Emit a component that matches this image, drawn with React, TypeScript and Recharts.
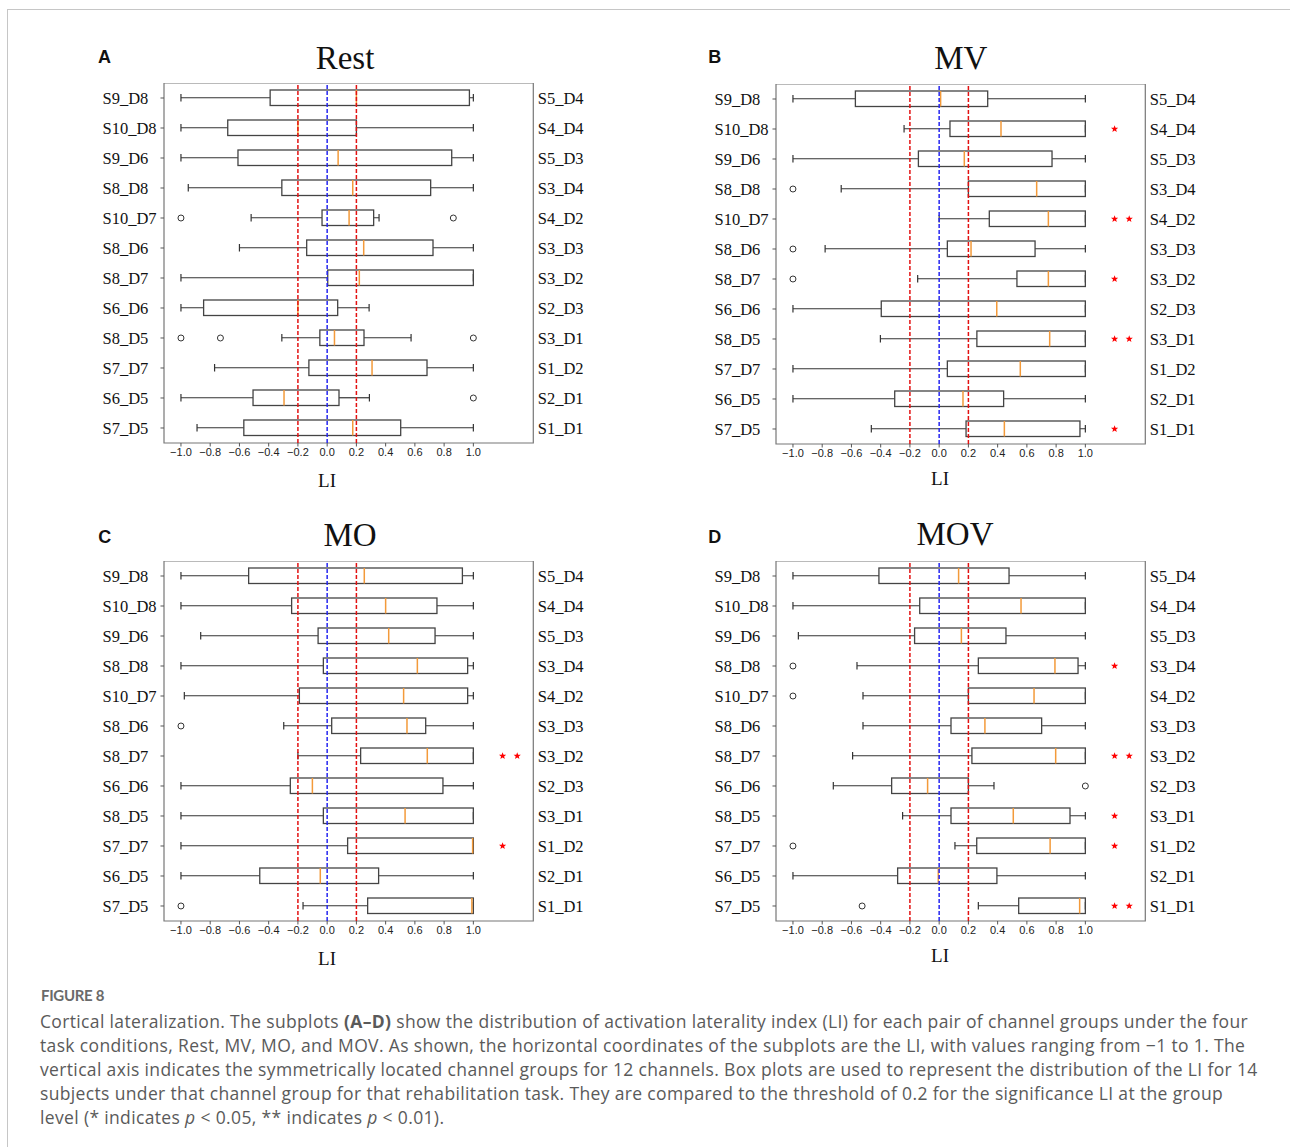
import React from 'react';
import { ComposedChart, Bar, XAxis, YAxis, ReferenceLine, ReferenceArea } from 'recharts';

// ---------- categories & ticks ----------
const leftLabels = ['S9_D8', 'S10_D8', 'S9_D6', 'S8_D8', 'S10_D7', 'S8_D6', 'S8_D7', 'S6_D6', 'S8_D5', 'S7_D7', 'S6_D5', 'S7_D5'];
const rightLabels = ['S5_D4', 'S4_D4', 'S5_D3', 'S3_D4', 'S4_D2', 'S3_D3', 'S3_D2', 'S2_D3', 'S3_D1', 'S1_D2', 'S2_D1', 'S1_D1'];
const xTicks = [-1.0, -0.8, -0.6, -0.4, -0.2, 0.0, 0.2, 0.4, 0.6, 0.8, 1.0];
const thresholds = [-0.2, 0.2];

// ---------- Rest ----------
const restLow = [-1.0, -1.0, -1.0, -0.95, -0.52, -0.6, -1.0, -1.0, -0.31, -0.77, -1.0, -0.89];
const restQ1 = [-0.39, -0.68, -0.61, -0.31, -0.035, -0.14, 0.004, -0.845, -0.05, -0.125, -0.507, -0.57];
const restMed = [0.2, -0.2, 0.075, 0.175, 0.15, 0.25, 0.22, -0.2, 0.05, 0.307, -0.295, 0.175];
const restQ3 = [0.973, 0.2, 0.852, 0.708, 0.318, 0.724, 1.0, 0.072, 0.252, 0.683, 0.081, 0.503];
const restHigh = [1.0, 1.0, 1.0, 1.0, 0.355, 1.0, 1.0, 0.287, 0.574, 1.0, 0.289, 1.0];
const restOut = [[], [], [], [], [-1.0, 0.863], [], [], [], [-1.0, -0.73, 1.0], [], [1.0], []];
const restSig = [0, 0, 0, 0, 0, 0, 0, 0, 0, 0, 0, 0];

// ---------- MV ----------
const mvLow = [-1.0, -0.24, -1.0, -0.67, 0.0, -0.78, -0.147, -1.0, -0.402, -1.0, -1.0, -0.464];
const mvQ1 = [-0.573, 0.074, -0.142, 0.2, 0.343, 0.056, 0.532, -0.396, 0.258, 0.056, -0.304, 0.184];
const mvMed = [0.01, 0.423, 0.172, 0.667, 0.747, 0.218, 0.747, 0.394, 0.756, 0.555, 0.163, 0.446];
const mvQ3 = [0.332, 1.0, 0.772, 1.0, 1.0, 0.656, 1.0, 1.0, 1.0, 1.0, 0.441, 0.963];
const mvHigh = [1.0, 1.0, 1.0, 1.0, 1.0, 1.0, 1.0, 1.0, 1.0, 1.0, 1.0, 1.0];
const mvOut = [[], [], [], [-1.0], [], [-1.0], [-1.0], [], [], [], [], []];
const mvSig = [0, 1, 0, 0, 2, 0, 1, 0, 2, 0, 0, 1];

// ---------- MO ----------
const moLow = [-1.0, -1.0, -0.865, -1.0, -0.977, -0.297, -0.2, -1.0, -1.0, -1.0, -1.0, -0.165];
const moQ1 = [-0.537, -0.243, -0.062, -0.026, -0.19, 0.031, 0.229, -0.252, -0.026, 0.14, -0.461, 0.277];
const moMed = [0.254, 0.4, 0.421, 0.617, 0.523, 0.546, 0.685, -0.101, 0.533, 0.995, -0.047, 0.99];
const moQ3 = [0.925, 0.751, 0.738, 0.961, 0.961, 0.674, 1.0, 0.792, 1.0, 1.0, 0.352, 1.0];
const moHigh = [1.0, 1.0, 1.0, 1.0, 1.0, 1.0, 1.0, 1.0, 1.0, 1.0, 1.0, 1.0];
const moOut = [[], [], [], [], [], [-1.0], [], [], [], [], [], [-1.0]];
const moSig = [0, 0, 0, 0, 0, 0, 2, 0, 0, 1, 0, 0];

// ---------- MOV ----------
const movLow = [-1.0, -1.0, -0.963, -0.562, -0.521, -0.521, -0.592, -0.724, -0.25, 0.108, -1.0, 0.268];
const movQ1 = [-0.412, -0.133, -0.168, 0.268, 0.2, 0.081, 0.224, -0.325, 0.081, 0.257, -0.284, 0.544];
const movMed = [0.133, 0.56, 0.152, 0.792, 0.649, 0.313, 0.797, -0.079, 0.507, 0.759, -0.006, 0.961];
const movQ3 = [0.478, 1.0, 0.457, 0.95, 1.0, 0.701, 1.0, 0.2, 0.895, 1.0, 0.395, 1.0];
const movHigh = [1.0, 1.0, 1.0, 1.0, 1.0, 1.0, 1.0, 0.375, 1.0, 1.0, 1.0, 1.0];
const movOut = [[], [], [], [-1.0], [-1.0], [], [], [1.0], [], [-1.0], [], [-0.527]];
const movSig = [0, 0, 0, 1, 0, 0, 2, 0, 1, 1, 0, 2];

// ---------- styling constants ----------
const X_DOMAIN: [number, number] = [-1.116, 1.41];
const STAR_X = [1.2, 1.3];
const AXIS_W_L = 80;
const AXIS_W_R = 70;
const AXIS_H = 30;
const PLOT_W = 369.3;
const PLOT_H = 360;
const SERIF = 'Liberation Serif, Times New Roman, serif';
const SANS = 'Liberation Sans, Arial, sans-serif';
const BOX_STROKE = '#444';
const WHISK_STROKE = '#333';
const MED_COLOR = '#f39a3a';

const fmt = (v: number) => (v < -1e-9 ? '\u2212' : '') + Math.abs(v).toFixed(1);

function buildRows(low: number[], q1: number[], med: number[], q3: number[], high: number[], out: number[][], sig: number[]) {
  return leftLabels.map((name, i) => {
    const o = out[i];
    return {
      name,
      right: rightLabels[i],
      box: [q1[i], q3[i]],
      loW: [low[i], q1[i]],
      hiW: [q3[i], high[i]],
      med: [med[i], med[i]],
      o1: o.length > 0 ? [o[0], o[0]] : null,
      o2: o.length > 1 ? [o[1], o[1]] : null,
      o3: o.length > 2 ? [o[2], o[2]] : null,
      s1: sig[i] >= 1 ? [STAR_X[0], STAR_X[0]] : null,
      s2: sig[i] >= 2 ? [STAR_X[1], STAR_X[1]] : null,
    };
  });
}

const isMissing = (p: any, key: string) => !p || !p.payload || p.payload[key] == null || !isFinite(p.x);

const BoxShape = (p: any) =>
  isMissing(p, 'box') ? <g /> : (
    <rect x={p.x} y={p.y} width={Math.max(0, p.width)} height={p.height} fill="none" stroke={BOX_STROKE} strokeWidth={1.3} />
  );

const LoWhisker = (p: any) => {
  if (isMissing(p, 'loW')) return <g />;
  const cy = p.y + p.height / 2;
  return (
    <g stroke={WHISK_STROKE} strokeWidth={1.2}>
      <line x1={p.x} x2={p.x + p.width} y1={cy} y2={cy} />
      <line x1={p.x} x2={p.x} y1={p.y} y2={p.y + p.height} />
    </g>
  );
};

const HiWhisker = (p: any) => {
  if (isMissing(p, 'hiW')) return <g />;
  const cy = p.y + p.height / 2;
  const xe = p.x + p.width;
  return (
    <g stroke={WHISK_STROKE} strokeWidth={1.2}>
      <line x1={p.x} x2={xe} y1={cy} y2={cy} />
      <line x1={xe} x2={xe} y1={p.y} y2={p.y + p.height} />
    </g>
  );
};

const MedShape = (p: any) =>
  isMissing(p, 'med') ? <g /> : (
    <line x1={p.x} x2={p.x} y1={p.y} y2={p.y + p.height} stroke={MED_COLOR} strokeWidth={1.5} />
  );

const outlierShape = (key: string) => (p: any) =>
  isMissing(p, key) ? <g /> : (
    <circle cx={p.x} cy={p.y + p.height / 2} r={3} fill="none" stroke="#333" strokeWidth={1} />
  );

function starPath(cx: number, cy: number, R: number, r: number) {
  let d = '';
  for (let k = 0; k < 10; k++) {
    const ang = -Math.PI / 2 + (k * Math.PI) / 5;
    const rad = k % 2 === 0 ? R : r;
    d += (k === 0 ? 'M' : 'L') + (cx + rad * Math.cos(ang)).toFixed(2) + ',' + (cy + rad * Math.sin(ang)).toFixed(2);
  }
  return d + 'Z';
}

const starShape = (key: string) => (p: any) =>
  isMissing(p, key) ? <g /> : <path d={starPath(p.x, p.y + p.height / 2, 3.8, 1.6)} fill="#ff0000" stroke="none" />;

const LeftTick = (props: any) => {
  const { x, y, payload } = props;
  return (
    <text x={x - 55} y={y} dy="0.36em" textAnchor="start" style={{ fontFamily: SERIF, fontSize: 16.5 }} fill="#111">
      {payload.value}
    </text>
  );
};

const RightTick = (props: any) => {
  const { x, y, payload } = props;
  return (
    <text x={x} y={y} dy="0.36em" textAnchor="start" style={{ fontFamily: SERIF, fontSize: 16.5 }} fill="#111">
      {payload.value}
    </text>
  );
};

const hiddenAxes = ['hw', 'md', 'a1', 'a2', 'a3', 'b1', 'b2'];

function Panel(props: { rows: any[]; left: number; top: number }) {
  const { rows, left, top } = props;
  return (
    <div style={{ position: 'absolute', left, top }}>
      <ComposedChart
        layout="vertical"
        width={AXIS_W_L + PLOT_W + AXIS_W_R}
        height={PLOT_H + AXIS_H}
        data={rows}
        margin={{ top: 0, right: 0, bottom: 0, left: 0 }}
      >
        <XAxis
          type="number"
          domain={X_DOMAIN}
          allowDataOverflow
          ticks={xTicks}
          interval={0}
          tickFormatter={fmt}
          height={AXIS_H}
          axisLine={false}
          tickSize={3.5}
          tickMargin={2}
          tickLine={{ stroke: '#555' }}
          tick={{ fontSize: 11, fill: '#222', fontFamily: SANS }}
        />
        <YAxis
          yAxisId="L"
          type="category"
          dataKey="name"
          width={AXIS_W_L}
          interval={0}
          axisLine={false}
          tickSize={3.5}
          tickMargin={3}
          tickLine={{ stroke: '#555' }}
          tick={<LeftTick />}
        />
        <YAxis
          yAxisId="R"
          orientation="right"
          type="category"
          dataKey="right"
          width={AXIS_W_R}
          interval={0}
          axisLine={false}
          tickLine={false}
          tickSize={0}
          tickMargin={4.5}
          tick={<RightTick />}
        />
        {hiddenAxes.map((id) => (
          <YAxis key={id} yAxisId={id} type="category" dataKey="name" hide />
        ))}
        <ReferenceArea
          yAxisId="L"
          x1={X_DOMAIN[0]}
          x2={X_DOMAIN[1]}
          fill="none"
          fillOpacity={0}
          stroke="#777"
          strokeWidth={1.2}
          ifOverflow="visible"
        />
        <ReferenceLine yAxisId="L" x={thresholds[0]} stroke="#e31111" strokeDasharray="4 2" strokeWidth={1.5} />
        <ReferenceLine yAxisId="L" x={thresholds[1]} stroke="#e31111" strokeDasharray="4 2" strokeWidth={1.5} />
        <ReferenceLine yAxisId="L" x={0} stroke="#2626f0" strokeDasharray="4 2" strokeWidth={1.5} />
        <Bar yAxisId="R" dataKey="loW" barSize={7.5} shape={LoWhisker} isAnimationActive={false} />
        <Bar yAxisId="hw" dataKey="hiW" barSize={7.5} shape={HiWhisker} isAnimationActive={false} />
        <Bar yAxisId="L" dataKey="box" barSize={15.5} shape={BoxShape} isAnimationActive={false} />
        <Bar yAxisId="md" dataKey="med" barSize={15.5} shape={MedShape} isAnimationActive={false} />
        <Bar yAxisId="a1" dataKey="o1" barSize={8} shape={outlierShape('o1')} isAnimationActive={false} />
        <Bar yAxisId="a2" dataKey="o2" barSize={8} shape={outlierShape('o2')} isAnimationActive={false} />
        <Bar yAxisId="a3" dataKey="o3" barSize={8} shape={outlierShape('o3')} isAnimationActive={false} />
        <Bar yAxisId="b1" dataKey="s1" barSize={8} shape={starShape('s1')} isAnimationActive={false} />
        <Bar yAxisId="b2" dataKey="s2" barSize={8} shape={starShape('s2')} isAnimationActive={false} />
      </ComposedChart>
    </div>
  );
}

const restRows = buildRows(restLow, restQ1, restMed, restQ3, restHigh, restOut, restSig);
const mvRows = buildRows(mvLow, mvQ1, mvMed, mvQ3, mvHigh, mvOut, mvSig);
const moRows = buildRows(moLow, moQ1, moMed, moQ3, moHigh, moOut, moSig);
const movRows = buildRows(movLow, movQ1, movMed, movQ3, movHigh, movOut, movSig);

const captionLines = [
  <>Cortical lateralization. The subplots <b>(A–D)</b> show the distribution of activation laterality index (LI) for each pair of channel groups under the four</>,
  <>task conditions, Rest, MV, MO, and MOV. As shown, the horizontal coordinates of the subplots are the LI, with values ranging from −1 to 1. The</>,
  <>vertical axis indicates the symmetrically located channel groups for 12 channels. Box plots are used to represent the distribution of the LI for 14</>,
  <>subjects under that channel group for that rehabilitation task. They are compared to the threshold of 0.2 for the significance LI at the group</>,
  <>level (* indicates <i>p</i> &lt; 0.05, ** indicates <i>p</i> &lt; 0.01).</>,
];

export default function App() {
  return (
    <div style={{ position: 'absolute', left: 0, top: 0, width: 1290, height: 1147, background: '#fff', overflow: 'hidden' }}>
      <div
        style={{
          position: 'absolute',
          left: 7,
          top: 9,
          width: 1300,
          height: 1200,
          borderTop: '1.5px solid #c6c6c6',
          borderLeft: '1.5px solid #c6c6c6',
        }}
      />
      <Panel rows={restRows} left={83.7} top={83} />
      <Panel rows={mvRows} left={695.7} top={84} />
      <Panel rows={moRows} left={83.7} top={560.7} />
      <Panel rows={movRows} left={695.7} top={560.5} />
      <svg width={1290} height={1147} style={{ position: 'absolute', left: 0, top: 0, pointerEvents: 'none' }}>
        <g style={{ fontFamily: SERIF, fontSize: 33 }} fill="#111" textAnchor="middle">
          <text x={345} y={69}>Rest</text>
          <text x={960.8} y={69}>MV</text>
          <text x={350} y={546}>MO</text>
          <text x={955} y={545}>MOV</text>
        </g>
        <g style={{ fontFamily: SANS, fontSize: 18, fontWeight: 700 }} fill="#111">
          <text x={98} y={63.3}>A</text>
          <text x={708.3} y={63.3}>B</text>
          <text x={98.3} y={543.3}>C</text>
          <text x={708.3} y={543}>D</text>
        </g>
        <g style={{ fontFamily: SERIF, fontSize: 19 }} fill="#111" textAnchor="middle">
          <text x={327} y={487}>LI</text>
          <text x={940} y={485}>LI</text>
          <text x={327} y={965}>LI</text>
          <text x={940} y={962}>LI</text>
        </g>
      </svg>
      <div
        style={{
          position: 'absolute',
          left: 41,
          top: 986,
          fontFamily: 'Lato, sans-serif',
          fontSize: 15,
          fontWeight: 700,
          color: '#6a6a6a',
          letterSpacing: -0.3,
        }}
      >
        FIGURE 8
      </div>
      <div
        style={{
          position: 'absolute',
          left: 40,
          top: 1009,
          fontFamily: '"Open Sans", sans-serif',
          fontSize: 17.5,
          letterSpacing: 0.35,
          lineHeight: '24px',
          color: '#5a5a5a',
          whiteSpace: 'nowrap',
        }}
      >
        {captionLines.map((l, i) => (
          <div key={i}>{l}</div>
        ))}
      </div>
    </div>
  );
}
